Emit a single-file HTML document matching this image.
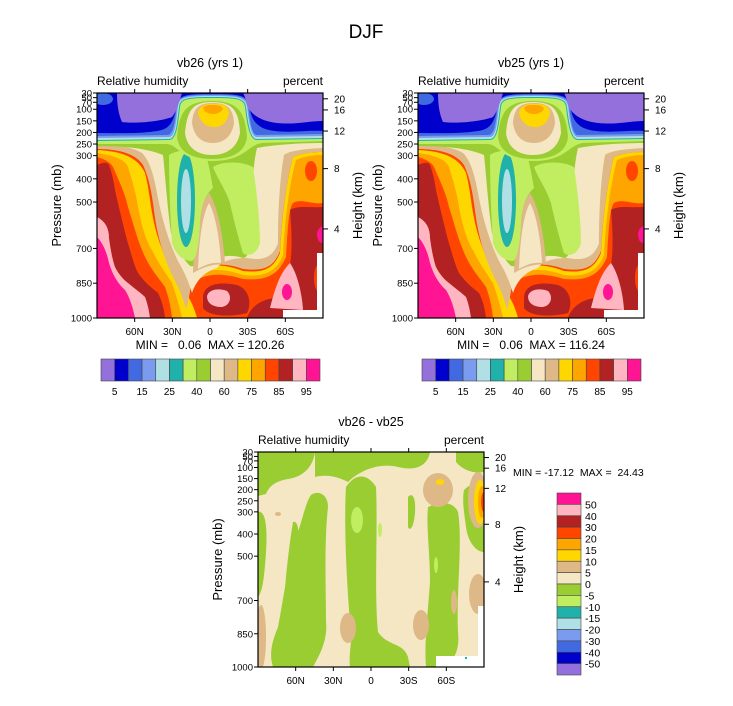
<!DOCTYPE html>
<html><head><meta charset="utf-8"><style>
html,body{margin:0;padding:0;background:#fff;}
svg text{font-family:"Liberation Sans",sans-serif;fill:#000;white-space:pre;}
</style></head><body>
<svg id="fig" width="733" height="701" viewBox="0 0 733 701" xmlns="http://www.w3.org/2000/svg">
<defs>
<clipPath id="clipTop"><rect x="0" y="0" width="226" height="225"/></clipPath>
<clipPath id="clipBot"><rect x="0" y="0" width="226" height="215"/></clipPath>
<g id="rhField" clip-path="url(#clipTop)">
  <rect x="0" y="0" width="226" height="225" fill="#FF4500"/>
  <path fill="#FFD700" d="M85,225 L85,185 C100,172 120,168 146,178 C165,180 176,177 183,160 C185,120 190,87 196,64 C205,60 215,59 226,59 L226,225 Z"/>
  <path fill="#FFA500" d="M88,225 L88,188 C102,177 120,173 146,182 C166,184 179,180 186,162 C188,122 193,90 199,67 C208,63 217,62 226,62 L226,225 Z"/>
  <path fill="#FF4500" d="M92,225 L92,192 C104,182 120,178 146,186 C168,188 181,183 189,164 C191,130 192,115 196,110 C205,105 215,112 226,110 L226,225 Z"/>
  <ellipse fill="#FF4500" cx="214" cy="78" rx="6" ry="10"/>
  <path fill="#B22222" d="M193,117 C200,112 215,115 226,114 L226,225 L173,225 C176,210 180,200 188,190 C195,175 196,150 193,117 Z"/>
  <path fill="#B22222" d="M150,225 C155,210 170,205 180,205 L185,225 Z"/>
  <ellipse fill="#FF4500" cx="222" cy="185" rx="5" ry="14"/>
  <ellipse fill="#FFA500" cx="223" cy="185" rx="3" ry="9"/>
  <path fill="#FF1493" d="M220,140 C222,133 226,133 226,133 L226,150 C222,150 220,147 220,140 Z"/>
  <path fill="#FFB6C1" d="M173,215 C178,195 183,180 193,170 C200,180 205,200 206,217 Z"/>
  <ellipse fill="#FF1493" cx="190" cy="199" rx="5" ry="8"/>
  <path fill="#B22222" d="M106,205 C106,192 120,188 140,192 C152,196 155,210 150,220 C135,224 112,224 106,215 Z"/>
  <path fill="#FFB6C1" d="M110,203 C112,196 122,195 130,198 C135,203 134,212 125,214 C115,214 110,210 110,203 Z"/>
  <path fill="#FFD700" d="M0,57 C20,58 40,62 48,80 C52,95 53,110 56,125 C60,145 66,160 75,180 C85,195 95,205 100,225 L0,225 Z"/>
  <path fill="#FFA500" d="M0,60 C15,62 28,66 31,74 C36,90 40,105 41,114 C45,135 50,150 55,157 C62,172 70,182 75,190 C80,205 83,215 85,225 L0,225 Z"/>
  <path fill="#FF4500" d="M0,64 C8,66 14,70 16,74 C22,88 28,100 31,114 C36,130 40,145 45,157 C52,175 62,185 68,194 C72,205 74,215 75,225 L0,225 Z"/>
  <path fill="#B22222" d="M0,72 C4,70 10,68 12,72 C15,80 17,90 18,97 C22,115 27,135 30,147 C34,160 37,172 41,180 C48,190 55,195 61,200 C65,208 67,216 68,225 L0,225 Z"/>
  <path fill="#FFB6C1" d="M0,124 C8,128 12,135 12,145 C14,160 16,168 18,174 C22,182 27,187 31,190 C38,196 44,200 48,204 C51,212 52,218 53,225 L0,225 Z"/>
  <path fill="#FF1493" d="M0,144 C6,150 10,160 12,170 C15,180 20,190 28,197 C33,205 36,215 38,225 L0,225 Z"/>
  <path fill="#DEB887" d="M0,0 L226,0 L226,59 C215,59 205,60 196,64 C190,87 185,120 183,158 C176,176 165,178 146,176 C120,167 100,172 95,185 C93,200 91,210 89,216 C86,205 82,195 78,188 C68,168 62,150 58,125 C55,100 52,85 46,72 C38,60 20,56 0,56 Z"/>
  <path fill="#F5E6C4" d="M0,0 L226,0 L226,55 C205,56 192,58 187,62 C182,90 181,125 181,150 C176,165 165,168 150,165 C135,165 125,168 120,175 C110,178 100,185 95,200 C92,190 88,180 82,170 C74,155 66,130 62,110 C58,90 55,70 45,60 C35,54 20,52 0,52 Z"/>
  <path fill="#9ACD32" d="M0,0 L226,0 L226,50 C200,50 175,52 160,55 C155,75 153,120 155,145 C152,160 150,165 146,165 C130,160 120,165 110,170 C100,172 95,175 92,172 C85,165 78,150 74,140 C70,110 68,80 66,62 C50,55 25,53 0,53 Z"/>
  <path fill="#DEB887" d="M96,180 C97,150 100,115 112,100 C122,115 127,150 128,172 C118,170 106,174 96,180 Z"/>
  <path fill="#F5E6C4" d="M101,176 C102,150 105,122 112,110 C119,122 123,150 124,170 C115,169 108,172 101,176 Z"/>
  <path fill="#C0EE60" d="M116,74 C125,68 145,68 156,74 C160,100 163,130 163,150 C160,162 150,164 146,160 C140,140 135,120 133,110 C128,95 120,85 116,74 Z"/>
  <path fill="#C0EE60" d="M72,62 C80,56 100,56 108,60 C112,70 114,85 116,95 C110,100 104,110 103,130 C102,150 100,165 95,168 C85,168 78,160 75,150 C73,120 72,90 72,62 Z"/>
  <ellipse fill="#20B2AA" cx="89" cy="107" rx="9" ry="47"/>
  <ellipse fill="#B0E0E6" cx="89" cy="108" rx="5" ry="32"/>
  <path fill="#C0EE60" d="M0,0 L226,0 L226,48 L165,50 C150,52 148,68 115,68 C84,68 82,52 70,51 L0,51 Z"/>
  <path fill="#9ACD32" d="M80,44 C82,20 88,8 115,8 C142,8 148,20 150,44 C148,62 130,66 115,66 C100,66 82,62 80,44 Z"/>
  <path fill="#F5E6C4" d="M88,40 C90,18 95,9 115,9 C136,9 142,18 143,40 C140,56 128,62 115,62 C102,62 90,56 88,40 Z"/>
  <path fill="#DEB887" d="M95,30 C96,15 102,10 116,10 C130,10 136,15 137,30 C135,43 127,50 116,50 C104,50 97,43 95,30 Z"/>
  <path fill="#FFD700" d="M101,20 C102,13 108,11 117,11 C127,11 131,13 132,20 C130,30 124,34 117,34 C109,34 103,29 101,20 Z"/>
  <path fill="#FFA500" d="M106,15 C108,12 112,12 117,12 C122,12 125,13 126,16 C123,20 120,21 116,21 C111,21 107,19 106,15 Z"/>
  <path fill="#20B2AA" d="M0,0 L226,0 L226,46 L160,47 C152,47 150,30 148,14 C147,6 140,5 115,5 C90,5 84,6 83,14 C81,30 80,47 72,47 L0,48 Z"/>
  <path fill="#B0E0E6" d="M0,0 L226,0 L226,45 L160,46 C153,46 151,30 149,14 C148,5 140,4 115,4 C90,4 83,5 82,14 C80,30 79,46 72,46 L0,47 Z"/>
  <path fill="#7B9CEE" d="M0,0 L226,0 L226,43 L160,44 C154,44 152,30 150,13 C148,4 140,3 115,3 C90,3 82,4 81,13 C79,30 78,44 72,44 L0,45 Z"/>
  <path fill="#4169E1" d="M0,0 L226,0 L226,41 L160,42 C155,42 153,30 151,12 C149,3 140,2 115,2 C90,2 82,3 80,12 C78,28 77,42 70,42 L0,43 Z"/>
  <path fill="#0000CD" d="M0,0 L226,0 L226,38 C210,37 195,40 178,38 C160,36 154,28 152,11 C150,2 140,1 115,1 C90,1 82,2 80,11 C77,26 75,36 60,38 C40,41 20,40 0,40 Z"/>
  <ellipse fill="#4169E1" cx="6" cy="6" rx="10" ry="6"/>
  <path fill="#9370DB" d="M20,0 L85,0 C83,6 80,18 75,24 C65,28 40,31 25,29 C21,20 20,10 20,0 Z"/>
  <path fill="#9370DB" d="M146,0 L226,0 L226,28 C212,28 198,32 180,30 C162,28 153,20 150,12 C149,5 147,2 146,0 Z"/>
  <rect fill="#fff" x="186" y="217" width="40" height="8"/>
  <rect fill="#fff" x="220" y="160" width="6" height="65"/>
</g>
<g id="diffField" clip-path="url(#clipBot)">
  <rect x="0" y="0" width="226" height="215" fill="#F5E6C4"/>
  <g fill="#9ACD32">
  <path d="M0,0 L57,0 C55,15 45,25 30,27 C20,29 12,32 8,42 L0,44 Z"/>
  <path d="M57,0 L172,0 C170,12 160,20 140,15 C120,10 100,20 90,30 C80,25 70,22 57,25 Z"/>
  <path d="M88,35 C98,20 110,22 118,35 C120,80 116,140 120,180 C130,195 145,190 150,205 L152,215 L92,215 C90,200 96,185 92,170 C88,120 86,70 88,35 Z"/>
  <path d="M53,43 C60,38 70,42 70,55 C66,90 68,140 68,170 C70,190 60,205 55,215 L15,215 C10,200 16,185 20,175 C25,150 30,110 40,80 C45,65 48,50 53,43 Z"/>
  <path d="M35,70 C40,68 42,80 40,100 C38,130 35,150 30,170 L25,170 C26,140 30,100 35,70 Z"/>
  <path d="M170,55 C180,50 195,48 200,60 C205,90 198,140 200,180 C202,200 195,210 185,215 L168,215 C166,190 170,160 172,130 C172,100 168,75 170,55 Z"/>
  <path d="M198,0 L226,0 L226,20 C215,22 205,18 198,10 Z"/>
  <path d="M206,38 C214,30 222,30 226,34 L226,100 C218,100 210,90 208,75 C206,60 204,48 206,38 Z"/>
  <path d="M150,45 C154,40 158,45 157,60 C156,75 152,80 150,75 Z"/>
  <path d="M0,60 C6,58 10,70 8,100 C6,130 4,140 0,145 Z"/>
  </g>
  <g fill="#C0EE60">
  <ellipse cx="99" cy="68" rx="6" ry="13"/>
  <ellipse cx="122" cy="78" rx="2" ry="7"/>
  <ellipse cx="178" cy="113" rx="2" ry="8"/>
  </g>
  <g fill="#DEB887">
  <ellipse cx="180" cy="38" rx="15" ry="17"/>
  <ellipse cx="90" cy="176" rx="8" ry="15"/>
  <ellipse cx="163" cy="173" rx="8" ry="15"/>
  <ellipse cx="220" cy="142" rx="9" ry="20"/>
  <ellipse cx="3" cy="185" rx="5" ry="32"/>
  <ellipse cx="196" cy="150" rx="3" ry="12"/>
  <ellipse cx="20" cy="62" rx="3" ry="2"/>
  <ellipse cx="220" cy="48" rx="10" ry="28"/>
  </g>
  <ellipse fill="#FFD700" cx="182" cy="30" rx="4" ry="3"/>
  <ellipse fill="#FFD700" cx="222" cy="50" rx="6" ry="22"/>
  <ellipse fill="#FFA500" cx="224" cy="50" rx="4" ry="16"/>
  <ellipse fill="#FF4500" cx="226" cy="50" rx="3" ry="10"/>
  <rect fill="#fff" x="178" y="204" width="48" height="11"/>
  <rect fill="#fff" x="220" y="154" width="6" height="61"/>
  <rect fill="#20B2AA" x="207" y="205" width="2" height="2"/>
</g>
</defs>

<text x="366" y="38" font-size="19" text-anchor="middle">DJF</text>
<g id="panels"></g>
</svg>
<script>
// data arrays
const pressureTicks = [30,50,70,100,150,200,250,300,400,500,700,850,1000];
const heightTicksKm = [4,8,12,16,20];
const heightTickPressure = [616,356,194,103,55];
const latTicks = [60,30,0,-30,-60];
const latLabels = ["60N","30N","0","30S","60S"];
const rhLevels = [5,15,25,40,60,75,85,95];
const rhColors = ["#9370DB","#0000CD","#4169E1","#7B9CEE","#B0E0E6","#20B2AA","#C0EE60","#9ACD32","#F5E6C4","#DEB887","#FFD700","#FFA500","#FF4500","#B22222","#FFB6C1","#FF1493"];
const diffLevels = [50,40,30,20,15,10,5,0,-5,-10,-15,-20,-30,-40,-50];
const diffColors = ["#FF1493","#FFB6C1","#B22222","#FF4500","#FFA500","#FFD700","#DEB887","#F5E6C4","#9ACD32","#C0EE60","#20B2AA","#B0E0E6","#7B9CEE","#4169E1","#0000CD","#9370DB"];
const panelTitles = ["vb26 (yrs 1)","vb25 (yrs 1)","vb26 - vb25"];
const minVals = ["0.06","0.06","-17.12"];
const maxVals = ["120.26","116.24","24.43"];

const NS="http://www.w3.org/2000/svg";
const root=document.getElementById('panels');
function mk(tag,attrs,parent,txt){const e=document.createElementNS(NS,tag);for(const k in attrs)e.setAttribute(k,attrs[k]);if(txt!==undefined)e.textContent=txt;(parent||root).appendChild(e);return e;}

function panel(i,x0,y0,w,h,fieldId){
  const g=mk('g',{transform:`translate(${x0},${y0})`});
  
  
  const u=mk('use',{href:'#'+fieldId},g);
  
  
  const fr=mk('rect',{x:0,y:0,width:w,height:h,fill:'none',stroke:'#000','stroke-width':1.2},g);
  
  
  const py=p=>(p-30)/970*h;
  const lx=l=>(90-l)/180*w;
  pressureTicks.forEach(p=>{
    mk('line',{x1:-4,x2:0,y1:py(p),y2:py(p),stroke:'#000'},g);
    const t=mk('text',{x:-5,y:py(p)+3.5,'font-size':9.5,'text-anchor':'end'},g,p);
    
    
  });
  heightTicksKm.forEach((k,j)=>{
    const y=py(heightTickPressure[j]);
    mk('line',{x1:w,x2:w+5,y1:y,y2:y,stroke:'#000'},g);
    const t=mk('text',{x:w+11,y:y+3.5,'font-size':10},g,k);
    
    
  });
  latTicks.forEach((l,j)=>{
    const x=lx(l);
    mk('line',{x1:x,x2:x,y1:h,y2:h+4,stroke:'#000'},g);
    mk('line',{x1:x,x2:x,y1:0,y2:-4,stroke:'#000'},g);
    const t=mk('text',{x:x,y:h+17,'font-size':10,'text-anchor':'middle'},g,latLabels[j]);
    
    
  });
  let t=mk('text',{x:w/2,y:-26,'font-size':12.5,'text-anchor':'middle'},g,panelTitles[i]);
  
  
  t=mk('text',{x:0,y:-8,'font-size':12},g,'Relative humidity');
  
  
  t=mk('text',{x:w,y:-8,'font-size':12,'text-anchor':'end'},g,'percent');
  
  
  t=mk('text',{x:-36,y:h/2,'font-size':13,'text-anchor':'middle',transform:`rotate(-90 -36 ${h/2})`},g,'Pressure (mb)');
  
  
  t=mk('text',{x:w+39,y:h/2,'font-size':13,'text-anchor':'middle',transform:`rotate(-90 ${w+39} ${h/2})`},g,'Height (km)');
  
  
  return g;
}

[[97,93],[418,93]].forEach((pos,i)=>{
  const g=panel(i,pos[0],pos[1],226,225,'rhField');
  let t=mk('text',{x:113,y:256,'font-size':12,'text-anchor':'middle'},g,`MIN =   ${minVals[i]}  MAX = ${maxVals[i]}`);
  
  
  const cb=mk('g',{transform:'translate(4,266)'},g);
  
  
  const bw=219/rhColors.length;
  rhColors.forEach((c,j)=>{
    const r=mk('rect',{x:j*bw,y:0,width:bw,height:22,fill:c,stroke:'#444','stroke-width':0.6},cb);
    
    
  });
  rhLevels.forEach((v,j)=>{
    const tt=mk('text',{x:(2*j+1)*bw,y:36,'font-size':10,'text-anchor':'middle'},cb,v);
    
    
  });
});

const gb=panel(2,258,452,226,215,'diffField');
let mm=mk('text',{x:255,y:24,'font-size':10.5},gb,`MIN = ${minVals[2]}  MAX =  ${maxVals[2]}`);


const vcb=mk('g',{transform:'translate(557,493)'});


const bh=182/diffColors.length;
diffColors.forEach((c,j)=>{
  const r=mk('rect',{x:0,y:j*bh,width:24,height:bh,fill:c,stroke:'#444','stroke-width':0.6},vcb);
  
  
});
diffLevels.forEach((v,j)=>{
  const tt=mk('text',{x:28,y:(j+1)*bh+4,'font-size':10.5},vcb,v);
  
  
});
</script>
</body></html>
